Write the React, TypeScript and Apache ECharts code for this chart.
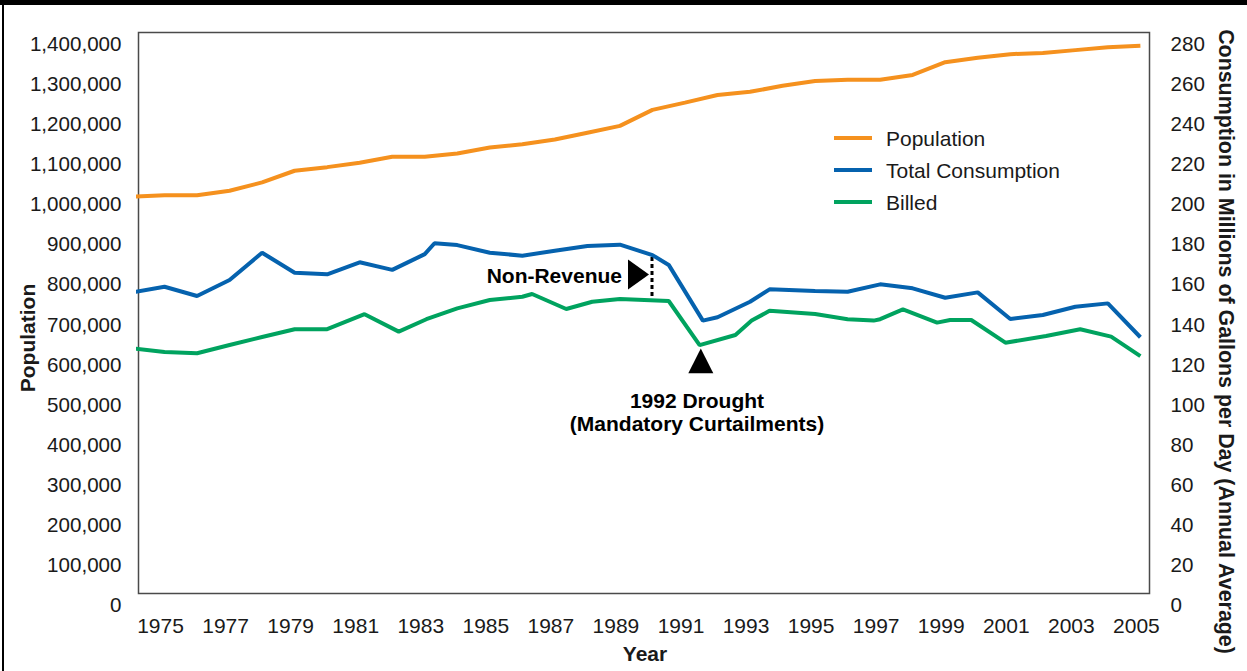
import React, { useEffect, useRef } from "react";
import * as echarts from "echarts";

// ---------- data ----------
const popYears = [
  1974, 1975, 1976, 1977, 1978, 1979, 1980, 1981, 1982, 1983, 1984, 1985, 1986, 1987, 1988, 1989,
  1990, 1991, 1992, 1993, 1994, 1995, 1996, 1997, 1998, 1999, 2000, 2001, 2002, 2003, 2004, 2005,
];
const population = [
  990000, 994000, 994000, 1005000, 1026000, 1055000, 1064000, 1075000, 1090000, 1090000, 1098000,
  1113000, 1121000, 1133000, 1150000, 1167000, 1207000, 1225000, 1244000, 1252000, 1267000, 1279000,
  1282000, 1282000, 1294000, 1326000, 1337000, 1346000, 1349000, 1356000, 1363000, 1367000,
];

const totalYears = [
  1974, 1975, 1976, 1977, 1978, 1979, 1980, 1981, 1982, 1983, 1983.3, 1984, 1985, 1986, 1987, 1988,
  1989, 1990, 1990.5, 1991.55, 1992, 1993, 1993.6, 1995, 1996, 1997, 1998, 1999, 2000, 2001, 2002,
  2003, 2004, 2005,
];
const totalConsumption = [
  150.3, 153.1, 148.5, 156.5, 170.1, 160.1, 159.3, 165.3, 161.5, 169.4, 174.8, 173.9, 170.1, 168.6,
  171.1, 173.4, 174.1, 168.9, 164.0, 136.2, 137.9, 145.6, 151.8, 151.0, 150.6, 154.3, 152.3, 147.6,
  150.3, 137.0, 139.0, 143.1, 144.8, 127.9,
];

const billedYears = [
  1974, 1975, 1976, 1977, 1978, 1979, 1980, 1981.15, 1982.2, 1983.05, 1984, 1985, 1986, 1986.3,
  1987.35, 1988.15, 1989, 1990.5, 1991.45, 1992.55, 1993.05, 1993.6, 1995, 1996, 1996.8, 1997,
  1997.7, 1998.75, 1999.15, 1999.8, 2000.85, 2002.1, 2003.15, 2004.1, 2005,
];
const billed = [
  122.4, 120.5, 119.9, 124.0, 128.0, 131.9, 131.9, 139.4, 130.7, 136.9, 142.3, 146.5, 148.1, 149.5,
  142.0, 145.6, 147.0, 146.0, 124.0, 129.0, 136.2, 141.1, 139.5, 136.9, 136.2, 136.9, 141.8, 135.2,
  136.5, 136.5, 125.2, 128.5, 131.9, 128.2, 118.5,
];

const yearTicks = [1975, 1977, 1979, 1981, 1983, 1985, 1987, 1989, 1991, 1993, 1995, 1997, 1999, 2001, 2003, 2005];

const seriesNames = ["Population", "Total Consumption", "Billed"];
const leftTitle = "Population";
const rightTitle = "Consumption in Millions of Gallons per Day (Annual Average)";
const xTitle = "Year";
const noteNonRevenue = "Non-Revenue";
const noteDrought1 = "1992 Drought";
const noteDrought2 = "(Mandatory Curtailments)";

const FONT = "'Liberation Sans', Arial, Helvetica, sans-serif";
const INK = "#1a1a1a";
const ORANGE = "#F5911E";
const BLUE = "#0562AE";
const GREEN = "#00A35F";

const zip = (xs: number[], ys: number[]) => xs.map((x, i) => [x, ys[i]]);

export default function App() {
  const ref = useRef<HTMLDivElement>(null);

  useEffect(() => {
    const chart = echarts.init(ref.current!, null, { renderer: "svg" });
    const lineSeries = (name: string, data: number[][], color: string, yAxisIndex: number) => ({
      name,
      type: "line",
      data,
      yAxisIndex,
      symbol: "none",
      clip: false,
      color,
      lineStyle: { color, width: 4 },
    });

    chart.setOption({
      animation: false,
      backgroundColor: "#ffffff",
      textStyle: { fontFamily: FONT },
      grid: {
        left: 138.5,
        right: 97.5,
        top: 32.5,
        bottom: 77.5,
        show: true,
        borderColor: "#4a4a4a",
        borderWidth: 1.5,
        backgroundColor: "transparent",
      },
      legend: {
        orient: "vertical",
        left: 829,
        top: 122,
        icon: "rect",
        itemWidth: 38,
        itemHeight: 4,
        itemGap: 10,
        selectedMode: false,
        data: seriesNames,
        textStyle: { fontFamily: FONT, fontSize: 21, color: INK, lineHeight: 22, padding: [0, 0, 0, 9] },
      },
      xAxis: {
        type: "value",
        min: 1974.2,
        max: 2005.28,
        axisLine: { show: false },
        axisTick: { show: false },
        splitLine: { show: false },
        axisLabel: {
          customValues: yearTicks,
          formatter: (v: number) => String(v),
          fontFamily: FONT,
          fontSize: 21,
          color: INK,
          margin: 21,
          padding: [0, 8, 0, 0],
        },
      },
      yAxis: [
        {
          type: "value",
          min: 0,
          max: 1400000,
          interval: 100000,
          axisLine: { show: false },
          axisTick: { show: false },
          splitLine: { show: false },
          axisLabel: {
            formatter: (v: number) => v.toLocaleString("en-US"),
            fontFamily: FONT,
            fontSize: 20.6,
            color: INK,
            margin: 17,
            verticalAlign: "top",
            lineHeight: 22,
          },
        },
        {
          type: "value",
          min: 0,
          max: 280,
          interval: 20,
          position: "right",
          axisLine: { show: false },
          axisTick: { show: false },
          splitLine: { show: false },
          axisLabel: {
            fontFamily: FONT,
            fontSize: 20.6,
            color: INK,
            margin: 21,
            verticalAlign: "top",
            lineHeight: 22,
          },
        },
      ],
      series: [
        lineSeries(seriesNames[0], zip(popYears, population), ORANGE, 0),
        lineSeries(seriesNames[1], zip(totalYears, totalConsumption), BLUE, 1),
        lineSeries(seriesNames[2], zip(billedYears, billed), GREEN, 1),
      ],
      graphic: [
        { type: "rect", shape: { x: 0, y: 0, width: 1247, height: 5 }, style: { fill: "#000" } },
        { type: "rect", shape: { x: 2, y: 0, width: 2, height: 671 }, style: { fill: "#000" } },
        {
          type: "text",
          x: 27,
          y: 338,
          rotation: Math.PI / 2,
          style: { text: leftTitle, font: `bold 21px ${FONT}`, fill: INK, align: "center", verticalAlign: "middle" },
        },
        {
          type: "text",
          x: 1226,
          y: 341.5,
          rotation: -Math.PI / 2,
          style: { text: rightTitle, font: `bold 21.4px ${FONT}`, fill: INK, align: "center", verticalAlign: "middle" },
        },
        {
          type: "text",
          x: 645,
          y: 653,
          style: { text: xTitle, font: `bold 21px ${FONT}`, fill: INK, align: "center", verticalAlign: "middle" },
        },
        {
          type: "text",
          x: 622,
          y: 275,
          style: { text: noteNonRevenue, font: `bold 21px ${FONT}`, fill: "#000", align: "right", verticalAlign: "middle" },
        },
        {
          type: "polygon",
          shape: { points: [[628, 259.5], [649, 274.5], [628, 289.5]] },
          style: { fill: "#000" },
        },
        {
          type: "line",
          shape: { x1: 652, y1: 257, x2: 652, y2: 296 },
          style: { stroke: "#000", lineWidth: 3, lineDash: [4, 3] },
        },
        {
          type: "polygon",
          shape: { points: [[700.8, 348.5], [713.3, 373.3], [688.3, 373.3]] },
          style: { fill: "#000" },
        },
        {
          type: "text",
          x: 697,
          y: 400,
          style: { text: noteDrought1, font: `bold 21px ${FONT}`, fill: "#000", align: "center", verticalAlign: "middle" },
        },
        {
          type: "text",
          x: 697,
          y: 423,
          style: { text: noteDrought2, font: `bold 21px ${FONT}`, fill: "#000", align: "center", verticalAlign: "middle" },
        },
      ],
    });
    return () => chart.dispose();
  }, []);

  return (
    <div
      ref={ref}
      style={{ position: "fixed", left: 0, top: 0, width: 1247, height: 671, background: "#fff" }}
    />
  );
}
